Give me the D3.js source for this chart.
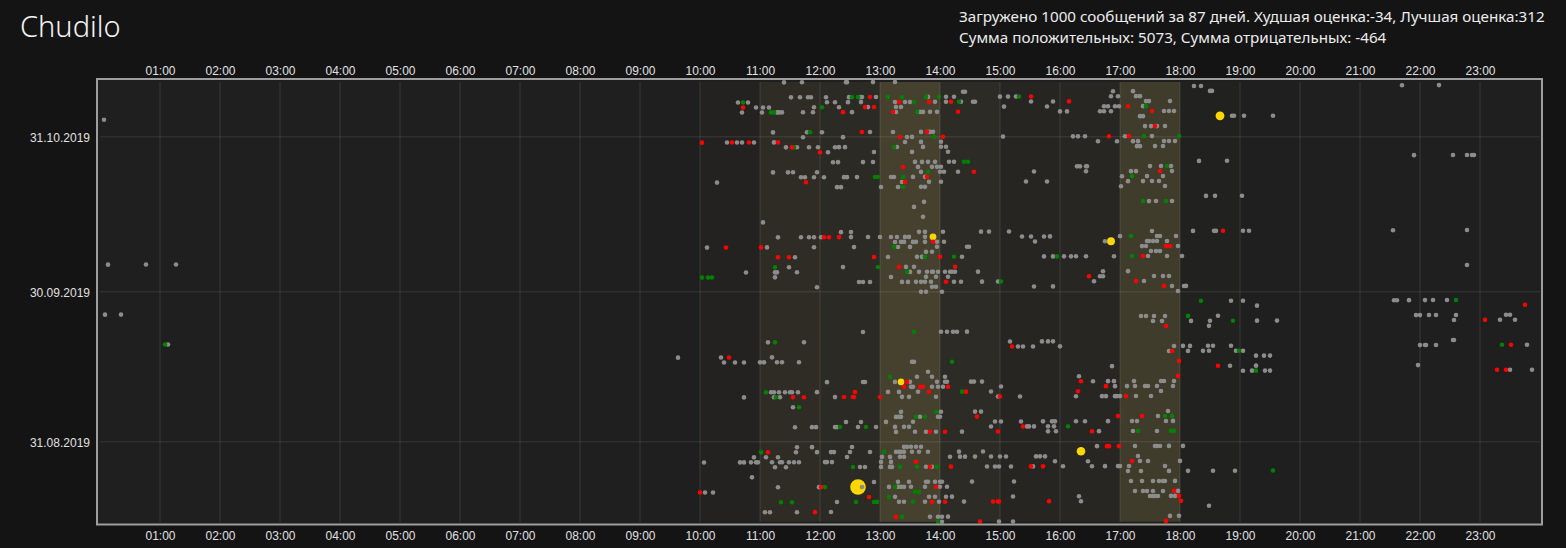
<!DOCTYPE html>
<html>
<head>
<meta charset="utf-8">
<script src="https://cdn.jsdelivr.net/npm/d3@7"></script>
<style>
html, body { margin: 0; background: #141414; overflow: hidden; }
svg { display: block; font-family: "Segoe UI", "Noto Sans", "Open Sans", sans-serif; }
</style>
</head>
<body>
<svg id="chart" width="1566" height="548"></svg>
<script>
// ---- data ----
const chartTitle = "Chudilo"
const statsLines = [
	"Загружено 1000 сообщений за 87 дней. Худшая оценка:-34, Лучшая оценка:312",
	"Сумма положительных: 5073, Сумма отрицательных: -464",
]
const hourTicks = ["01:00", "02:00", "03:00", "04:00", "05:00", "06:00", "07:00", "08:00", "09:00", "10:00", "11:00", "12:00",
	"13:00", "14:00", "15:00", "16:00", "17:00", "18:00", "19:00", "20:00", "21:00", "22:00", "23:00"]
const dateTicks = ["31.08.2019", "30.09.2019", "31.10.2019"]

// activity per hour of day (drives the highlight bands)
const bandHours = [10, 11, 12, 13, 14, 15, 16, 17, 18]
const bandActivity = [0.02, 0.07, 0.058, 0.175, 0.062, 0.031, 0.04, 0.148, 0.01]

// messages: [day offset from 30.10.2019, [minutes of day...]]
const greyMsgs = [
	[11, [684, 702, 746, 747, 773, 795]],
	[10, [1094, 1101, 1302, 1339]],
	[9, [863, 865, 1013, 1033, 1110, 1112]],
	[8, [691, 700, 708, 711, 726, 749, 760, 762, 776, 828, 846, 854, 900, 908, 916, 1011, 1018, 1036, 1040]],
	[7, [638, 648, 727, 735, 748, 761, 795, 805, 810, 835, 846, 861, 873, 875, 931, 953, 1046, 1049, 1070]],
	[6, [656, 663, 669, 714, 739, 768, 796, 801, 904, 947, 1004, 1008, 1015, 1019, 1043]],
	[5, [642, 662, 677, 679, 682, 703, 713, 752, 796, 820, 823, 830, 837, 960, 967, 1000, 1004, 1011, 1064, 1069, 1074]],
	[4, [4, 1040, 1043, 1132, 1134, 1144, 1173]],
	[2, [1045, 1051, 1057, 1065]],
	[1, [673, 707, 722, 770, 793, 821, 828, 830, 833]],
	[0, [703, 743, 807, 812, 903, 973, 978, 985, 1025, 1052]],
	[-1, [627, 637, 642, 654, 674, 805, 821, 841, 998, 1017, 1033, 1038, 1064, 1069, 1075]],
	[-2, [686, 697, 709, 718, 735, 739, 745, 797, 823, 841, 846, 1037, 1040, 1055, 1063]],
	[-3, [728, 774, 812, 848]],
	[-4, [1314, 1353, 1367, 1372, 1374]],
	[-5, [733, 738, 763, 773, 815, 822, 828, 835, 849, 854, 1099, 1127]],
	[-6, [818, 832, 837, 841, 977, 980, 986, 987, 1050, 1061, 1071]],
	[-7, [673, 688, 693, 717, 821, 840, 844, 858, 934, 986, 1031, 1036, 1072]],
	[-8, [701, 705, 714, 724, 744, 747, 757, 791, 794, 813, 825, 1022, 1047, 1063]],
	[-9, [617, 802, 829, 841, 926, 947, 1028, 1043, 1052, 1059]],
	[-10, [737, 741, 781, 798, 821, 825, 1021, 1065]],
	[-12, [1106, 1115, 1142]],
	[-13, [824, 1049, 1056, 1072]],
	[-14, [814]],
	[-16, [823]],
	[-17, [663]],
	[-19, [741, 751, 819, 825, 843, 881, 889, 909, 1052, 1093, 1114, 1116, 1143, 1149, 1293, 1367]],
	[-20, [678, 701, 709, 714, 721, 751, 768, 780, 791, 797, 805, 809, 825, 922, 931, 944, 950, 1020, 1057, 1060, 1076]],
	[-21, [795, 801, 804, 813, 816, 825, 837, 844, 935, 1005, 1047, 1049, 1053, 1057, 1067]],
	[-22, [607, 667, 714, 754, 798, 810, 837, 867, 869, 1042, 1046, 1078]],
	[-23, [826, 832, 1051, 1056, 1060]],
	[-24, [695, 788, 817, 822, 862, 944, 953, 964, 971, 976, 986, 1014, 1048, 1067, 1082]],
	[-25, [8, 46, 76]],
	[-26, [689, 743, 806, 814, 1367]],
	[-27, [646, 675, 677, 697, 810, 819, 827, 832, 833, 838, 845, 850, 852, 855, 878, 1003, 1028]],
	[-28, [675, 791, 826, 836, 848, 1000, 1003, 1054, 1063, 1069]],
	[-29, [759, 763, 770, 802, 808, 816, 821, 825, 831, 854, 861, 882, 898, 994, 1044]],
	[-30, [717, 832, 836, 934, 953, 1072, 1084, 1086]],
	[-31, [821, 826, 842, 1078]],
	[-33, [1131, 1143, 1294, 1297, 1309, 1325, 1333, 1347]],
	[-34, [1157]],
	[-35, [5, 21]],
	[-36, [1041, 1046, 1054, 1065, 1118, 1316, 1320, 1329, 1336, 1356, 1406, 1410]],
	[-37, [1053, 1062, 1091, 1110, 1157, 1177, 1354, 1400, 1415]],
	[-38, [1109]],
	[-39, [763, 841, 847, 853, 857, 867]],
	[-41, [68, 668, 704, 910, 942, 948, 953, 1353, 1354]],
	[-42, [918, 923, 933, 960, 1074, 1083, 1090, 1108, 1113, 1131, 1320, 1325, 1326, 1336, 1427]],
	[-43, [1069, 1088, 1103, 1109, 1136, 1143]],
	[-44, [578, 621, 672, 1156, 1164, 1170]],
	[-45, [624, 635, 644, 660, 664, 677, 682, 699, 812, 814]],
	[-46, [1012, 1130, 1156, 1318]],
	[-47, [828, 1143, 1152, 1165, 1170, 1410, 1432]],
	[-48, [817, 832, 845, 979]],
	[-49, [727, 763, 765, 795, 810, 837, 845, 847, 871, 874, 882, 993, 1008, 1014, 1034, 1061, 1064, 1074]],
	[-50, [811, 813, 832, 838, 843, 901, 1015, 1027, 1035, 1045, 1048, 1057, 1073]],
	[-51, [671, 674, 679, 685, 690, 692, 698, 717, 788, 799, 818, 891, 1061]],
	[-52, [644, 674, 680, 735, 802, 809, 836, 898, 920, 976, 1002, 1006, 1015, 1017, 1020, 1036, 1051]],
	[-54, [693]],
	[-55, [801, 841, 875, 881, 1068]],
	[-56, [796, 799, 801, 820, 838, 840, 1058]],
	[-57, [746, 761, 786, 813, 895, 901, 921, 943, 952, 955, 976, 985, 1008, 1032, 1037, 1066, 1073]],
	[-58, [695, 712, 716, 735, 737, 758, 776, 795, 804, 809, 891, 927, 929, 934, 948, 954]],
	[-59, [796, 815, 826, 836, 862, 948, 956, 999, 1033, 1057]],
	[-62, [697, 712, 752, 804, 807, 811, 816, 821, 997, 1035, 1055, 1057, 1060, 1069, 1083]],
	[-63, [696, 717, 731, 734, 750, 770, 796, 799, 801, 804, 812, 819, 828, 859, 883]],
	[-64, [654, 666, 678, 747, 782, 790, 800, 804, 850, 860, 865, 875, 891, 900, 906, 936, 940, 945, 1038]],
	[-65, [604, 640, 644, 651, 656, 658, 672, 680, 682, 689, 694, 699, 725, 727, 732, 781, 791, 955, 988, 1040, 1048, 1080]],
	[-66, [675, 686, 760, 765, 781, 790, 792, 826, 832, 887, 895, 899, 911, 933, 963, 992, 1005, 1018, 1020, 1029, 1065]],
	[-67, [1028, 1041, 1069, 1088, 1113, 1135]],
	[-68, [652]],
	[-69, [774, 798, 809, 826, 828, 835, 840, 842, 872, 914, 1031, 1042, 1053, 1059, 1063, 1065, 1075]],
	[-70, [678, 719, 762, 789, 798, 801, 804, 811, 825, 840, 847]],
	[-71, [605, 613, 1035, 1043, 1047, 1053, 1063, 1078]],
	[-72, [795, 829, 835, 846, 852, 913, 979, 1050, 1053, 1055, 1058, 1071, 1075]],
	[-73, [737, 799, 804, 825, 839, 864, 981]],
	[-74, [1109]],
	[-75, [665, 670, 697, 731]],
	[-76, [830, 838, 842, 848, 1070, 1079]],
	[-77, [842, 899, 913]],
]
const greenMsgs = [
	[8, [752, 758, 788, 802, 826, 839, 919]],
	[7, [643, 814, 859]],
	[6, [722, 1046]],
	[5, [671, 674, 817]],
	[1, [710]],
	[0, [834, 1044, 1079]],
	[-2, [694, 794]],
	[-5, [864, 868]],
	[-6, [1067]],
	[-7, [828]],
	[-8, [775, 778, 803, 1032]],
	[-10, [803]],
	[-13, [1043, 1066]],
	[-20, [1031]],
	[-22, [794]],
	[-24, [825, 854, 957, 1032]],
	[-26, [675, 778]],
	[-27, [807]],
	[-28, [602, 608, 612]],
	[-29, [901]],
	[-33, [1101, 1356]],
	[-36, [1088]],
	[-37, [1133]],
	[-39, [814]],
	[-41, [65, 675]],
	[-42, [1402]],
	[-43, [1139]],
	[-45, [852]],
	[-47, [1156]],
	[-48, [790]],
	[-51, [666, 862]],
	[-52, [676]],
	[-54, [699]],
	[-55, [836]],
	[-56, [816, 825, 1065, 1072]],
	[-58, [740, 766, 968]],
	[-59, [1038, 1071, 1074]],
	[-63, [661, 784]],
	[-66, [753, 800, 817, 837]],
	[-67, [1173]],
	[-70, [725, 795]],
	[-71, [815, 819]],
	[-72, [789]],
	[-73, [681, 692, 756, 774, 777, 813]],
	[-76, [802]],
	[-77, [838]],
]
const redMsgs = [
	[8, [770, 931]],
	[7, [799, 829, 851, 969]],
	[6, [643, 765, 774, 1028]],
	[5, [743, 793, 858, 1052]],
	[2, [1055]],
	[1, [762, 827]],
	[0, [800, 843, 1009, 1029]],
	[-1, [602, 632, 649, 678]],
	[-2, [692]],
	[-3, [720]],
	[-6, [803]],
	[-7, [874, 1060]],
	[-8, [827]],
	[-9, [706, 805]],
	[-19, [1123]],
	[-20, [724, 729, 739]],
	[-21, [833]],
	[-22, [626, 661, 1066, 1070]],
	[-24, [678, 689, 774, 840, 1043]],
	[-26, [799, 855]],
	[-28, [989]],
	[-29, [846, 1036]],
	[-30, [1064]],
	[-34, [1425]],
	[-37, [1385]],
	[-38, [1066]],
	[-42, [912, 1411]],
	[-43, [1072]],
	[-44, [629]],
	[-45, [1079]],
	[-46, [1118]],
	[-47, [1397, 1406]],
	[-48, [1078]],
	[-49, [807, 981]],
	[-50, [804, 820, 823, 848, 1006]],
	[-51, [755, 829, 866, 978]],
	[-52, [693, 704, 744, 753, 754, 780, 900, 1026]],
	[-56, [877, 1018, 1042]],
	[-58, [923]],
	[-59, [830, 845, 898, 992]],
	[-62, [1007, 1009, 1019]],
	[-63, [668]],
	[-65, [816, 1032]],
	[-66, [830, 851, 931, 943]],
	[-70, [721, 836]],
	[-71, [600, 1074]],
	[-72, [769, 1079]],
	[-73, [832, 845, 893, 898, 899, 949, 1081]],
	[-75, [715]],
	[-76, [796]],
	[-77, [880, 1066]],
]
// top rated messages: [day offset, minute of day, score]
const yellowMsgs = [
	[4, 1120, 100],
	[-20, 833, 60],
	[-21, 1011, 80],
	[-49, 801, 55],
	[-63, 981, 95],
	[-70, 758, 312],
]

// the date axis runs on a clock shifted from the time-of-day axis
const clockShiftHours = 10

// ---- chart ----
const svg = d3.select("#chart")
const inner = { left: 100, right: 1540, top: 82, bottom: 521.7 }
const frame = { x: 97, y: 79, w: 1445, h: 445.5 }

const stamp = (d, m) => new Date(Date.UTC(2019, 9, 30 + d, clockShiftHours, m))
const flatten = (rows) =>
	rows.flatMap(([d, mins]) => mins.map((m) => ({ t: stamp(d, m), m })))

const grey = flatten(greyMsgs)
const green = flatten(greenMsgs)
const red = flatten(redMsgs)
const yellow = yellowMsgs.map(([d, m, s]) => ({ t: stamp(d, m), m, s }))
const all = grey.concat(green, red, yellow)

const parseTick = d3.utcParse("%d.%m.%Y")
const hourMin = (s) => +s.slice(0, 2) * 60 + +s.slice(3)

const x = d3.scaleLinear().domain([0, 1440]).range([inner.left, inner.right])
const y = d3.scaleUtc().domain(d3.extent(all, (d) => d.t)).range([inner.bottom, inner.top])
const r = d3.scaleSqrt().domain([0, 312]).range([0, 7.8])
const bandOpacity = d3.scaleLinear().domain([0, 1]).range([0, 1])

// title + stats
svg.append("text")
	.attr("x", 20)
	.attr("y", 37)
	.style("font-size", "29px")
	.style("font-weight", 300)
	.style("fill", "#f2f2f2")
	.text(chartTitle)

svg.selectAll(".stats")
	.data(statsLines)
	.join("text")
	.attr("class", "stats")
	.attr("x", 959)
	.attr("y", (d, i) => 21.7 + i * 21.6)
	.style("font-size", "15.2px")
	.style("fill", "#ececec")
	.text((d) => d)

// plot background
svg.append("rect")
	.attr("x", frame.x)
	.attr("y", frame.y)
	.attr("width", frame.w)
	.attr("height", frame.h)
	.attr("fill", "#1f1f1f")

// hour bands
svg.append("g")
	.selectAll("rect")
	.data(bandHours)
	.join("rect")
	.attr("x", (h) => x(h * 60))
	.attr("width", (h) => x((h + 1) * 60) - x(h * 60))
	.attr("y", inner.top)
	.attr("height", inner.bottom - inner.top)
	.attr("fill", "#ffe37a")
	.attr("fill-opacity", (h, i) => bandOpacity(bandActivity[i]))

// grid
const grid = svg.append("g").attr("stroke", "rgba(255,255,255,0.075)").attr("stroke-width", 1.5)
grid.selectAll(".vg")
	.data(hourTicks)
	.join("line")
	.attr("x1", (d) => x(hourMin(d)))
	.attr("x2", (d) => x(hourMin(d)))
	.attr("y1", inner.top)
	.attr("y2", inner.bottom)
grid.selectAll(".hg")
	.data(dateTicks)
	.join("line")
	.attr("y1", (d) => y(parseTick(d)))
	.attr("y2", (d) => y(parseTick(d)))
	.attr("x1", inner.left)
	.attr("x2", inner.right)

// axes
const styleAxis = (g) => {
	g.select(".domain").remove()
	g.selectAll("text").style("font-size", "12px").style("fill", "#e0e0e0").style("font-family", null)
}
const hourValues = hourTicks.map(hourMin)
svg.append("g")
	.attr("transform", `translate(0,${frame.y})`)
	.call(d3.axisTop(x).tickValues(hourValues).tickFormat((d, i) => hourTicks[i]).tickSize(0).tickPadding(4.5))
	.call(styleAxis)
svg.append("g")
	.attr("transform", `translate(0,${frame.y + frame.h})`)
	.call(d3.axisBottom(x).tickValues(hourValues).tickFormat((d, i) => hourTicks[i]).tickSize(0).tickPadding(6.5))
	.call(styleAxis)
svg.append("g")
	.attr("transform", `translate(${frame.x},0)`)
	.call(d3.axisLeft(y).tickValues(dateTicks.map(parseTick)).tickFormat((d, i) => dateTicks[i]).tickSize(0).tickPadding(7))
	.call(styleAxis)
	.selectAll("text")
	.attr("dy", "0.4em")

// messages
const dots = svg.append("g")
const drawDots = (data, color, radius) =>
	dots.append("g")
		.selectAll("circle")
		.data(data)
		.join("circle")
		.attr("cx", (d) => x(d.m))
		.attr("cy", (d) => y(d.t))
		.attr("r", radius)
		.attr("fill", color)

drawDots(yellow, "#ffd700", (d) => r(d.s))
drawDots(grey, "#8c8c8c", 2.3)
drawDots(green, "#008000", 2.3)
drawDots(red, "#ff0000", 2.3)

// frame border
svg.append("rect")
	.attr("x", frame.x)
	.attr("y", frame.y)
	.attr("width", frame.w)
	.attr("height", frame.h)
	.attr("fill", "none")
	.attr("stroke", "#9e9e9e")
	.attr("stroke-width", 2)
</script>
</body>
</html>
